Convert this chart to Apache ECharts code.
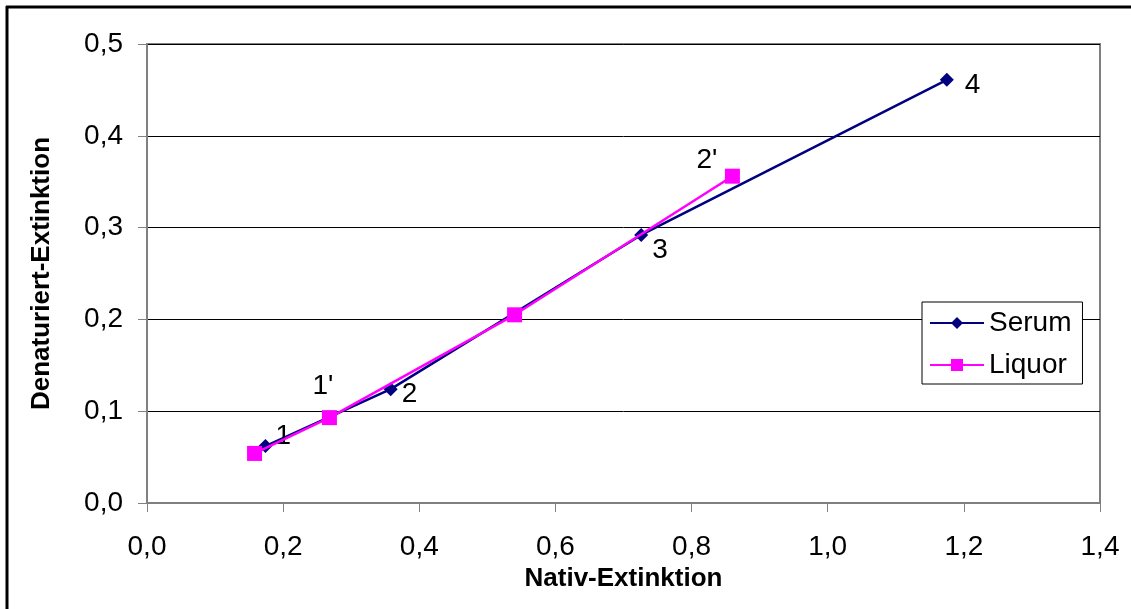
<!DOCTYPE html>
<html><head><meta charset="utf-8">
<script src="https://cdn.jsdelivr.net/npm/echarts@6/dist/echarts.min.js"></script>
<style>html,body{margin:0;padding:0;background:#fff}#c{width:1131px;height:609px}</style>
</head><body><div id="c"></div>
<script>
const xTicks = [0, 0.2, 0.4, 0.6, 0.8, 1.0, 1.2, 1.4];
const yTicks = [0, 0.1, 0.2, 0.3, 0.4, 0.5];
const serumX = [0.174, 0.358, 0.726, 1.175];
const serumY = [0.062, 0.124, 0.292, 0.461];
const serumLabels = ['1', '2', '3', '4'];
const liquorX = [0.158, 0.268, 0.540, 0.860];
const liquorY = [0.054, 0.093, 0.205, 0.356];
const liquorLabels = ['', "1'", '', "2'"];

const F = '"Liberation Sans", Arial, sans-serif';
const fmt = v => v.toFixed(1).replace('.', ',');
const serumPos = [[10, -24], [11, -9], [11, 1], [18, -9]];
const liquorPos = [null, [-17, -45], null, [-36, -30]];

function mk(xs, ys, labels, pos) {
  return xs.map((x, i) => {
    const d = { value: [x, ys[i]] };
    if (labels[i]) {
      d.label = { show: true, formatter: labels[i], position: 'inside', offset: pos[i], fontSize: 28, fontFamily: F, color: '#000', align: 'left', verticalAlign: 'top' };
    }
    return d;
  });
}

const chart = echarts.init(document.getElementById('c'));
chart.setOption({
  animation: false,
  backgroundColor: '#fff',
  graphic: [
    { type: 'line', shape: { x1: 7, y1: 6, x2: 7, y2: 609 }, style: { stroke: '#000', lineWidth: 3 } },
    { type: 'line', shape: { x1: 6, y1: 7, x2: 1131, y2: 7 }, style: { stroke: '#000', lineWidth: 3 } }
  ],
  grid: { left: 147, right: 31, top: 44, bottom: 106, show: true, borderColor: '#808080', borderWidth: 2, backgroundColor: 'transparent' },
  legend: {
    left: 922, top: 302, orient: 'vertical',
    backgroundColor: '#fff', borderColor: '#000', borderWidth: 1,
    padding: [7, 11, 5, 7], itemGap: 14, itemWidth: 54, itemHeight: 15,
    textStyle: { fontSize: 28, fontFamily: F, color: '#000' },
    data: ['Serum', 'Liquor']
  },
  xAxis: {
    type: 'value', min: 0, max: 1.4, interval: 0.2,
    name: 'Nativ-Extinktion', nameLocation: 'middle', nameGap: 62,
    nameTextStyle: { fontSize: 26, fontWeight: 'bold', fontFamily: F, color: '#000' },
    axisLine: { show: true, lineStyle: { color: '#808080', width: 2 } },
    axisTick: { show: true, inside: false, length: 9, lineStyle: { color: '#808080', width: 1 } },
    axisLabel: { fontSize: 28, fontFamily: F, color: '#000', margin: 30, formatter: v => fmt(v) },
    splitLine: { show: false }
  },
  yAxis: {
    type: 'value', min: 0, max: 0.5, interval: 0.1,
    name: 'Denaturiert-Extinktion', nameLocation: 'middle', nameGap: 92,
    nameTextStyle: { fontSize: 26, fontWeight: 'bold', fontFamily: F, color: '#000' },
    axisLine: { show: true, lineStyle: { color: '#808080', width: 2 } },
    axisTick: { show: true, inside: false, length: 9, lineStyle: { color: '#808080', width: 1 } },
    axisLabel: { fontSize: 28, fontFamily: F, color: '#000', margin: 24, formatter: v => fmt(v) },
    splitLine: { show: true, lineStyle: { color: '#000', width: 1 } }
  },
  series: [
    {
      name: 'Serum', type: 'line', data: mk(serumX, serumY, serumLabels, serumPos),
      symbol: 'diamond', symbolSize: 14, z: 3,
      lineStyle: { color: '#000080', width: 2.5 }, itemStyle: { color: '#000080' }
    },
    {
      name: 'Liquor', type: 'line', data: mk(liquorX, liquorY, liquorLabels, liquorPos),
      symbol: 'rect', symbolSize: 15, z: 4,
      lineStyle: { color: '#FF00FF', width: 2.5 }, itemStyle: { color: '#FF00FF' }
    }
  ]
});
</script></body></html>
